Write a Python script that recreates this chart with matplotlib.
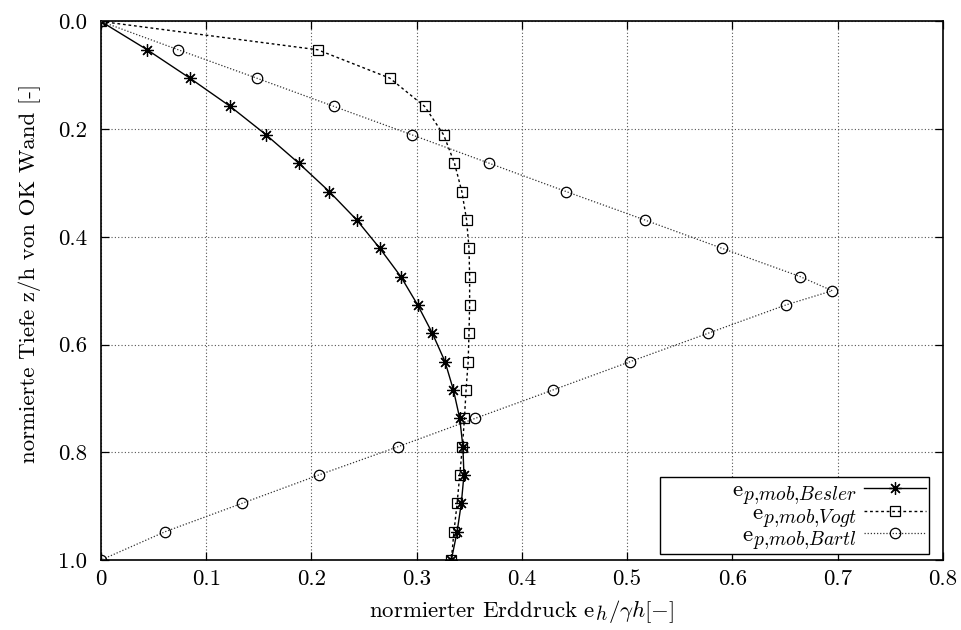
import numpy as np
import matplotlib
matplotlib.use("Agg")
import matplotlib.pyplot as plt
import matplotlib._mathtext as mathtext_mod

# Daten
# ------------------------------
z_steps = [i / 19 for i in range(20)]

e_besler = [0.0, 0.044, 0.0845, 0.123, 0.157, 0.188, 0.217, 0.243, 0.265, 0.285,
            0.301, 0.315, 0.327, 0.335, 0.341, 0.344, 0.345, 0.3425, 0.3385, 0.333]

e_vogt = [0.0, 0.206, 0.2745, 0.3077, 0.3257, 0.336, 0.343, 0.3475, 0.3498, 0.3504,
          0.3504, 0.3498, 0.349, 0.347, 0.3455, 0.3435, 0.341, 0.3385, 0.3355, 0.333]

z_bartl = z_steps[:10] + [0.5] + z_steps[10:]
e_bartl = [0.0, 0.0735, 0.148, 0.2216, 0.2955, 0.3688, 0.442, 0.5166, 0.590, 0.6645,
           0.695, 0.651, 0.577, 0.503, 0.4296, 0.3558, 0.2824, 0.207, 0.134, 0.061, 0.0]

x_ticks = [0, 0.1, 0.2, 0.3, 0.4, 0.5, 0.6, 0.7, 0.8]
x_ticklabels = ['0', '0.1', '0.2', '0.3', '0.4', '0.5', '0.6', '0.7', '0.8']
y_ticks = [0.0, 0.2, 0.4, 0.6, 0.8, 1.0]
y_ticklabels = ['0.0', '0.2', '0.4', '0.6', '0.8', '1.0']

# Schrift im LaTeX-Stil
fontsize = 16.5
plt.rcParams.update({
    "font.family": "serif",
    "font.serif": ["cmr10", "DejaVu Serif"],
    "mathtext.fontset": "cm",
    "axes.formatter.use_mathtext": True,
    "font.size": fontsize,
})
# groessere Indizes wie im Original
mathtext_mod.SHRINK_FACTOR = 0.85

fig = plt.figure(figsize=(9.61, 6.3), dpi=100)
ax = fig.add_axes([0.105, 0.111, 0.876, 0.855])

ax.plot(e_besler, z_steps, color='black', linewidth=1.0, linestyle='-',
        marker=(8, 2, 0), markersize=9, markeredgewidth=0.9,
        label=r'$\mathrm{e}_{p{,}mob{,}Besler}$', zorder=3)
ax.plot(e_vogt, z_steps, color='black', linewidth=1.0, linestyle=(0, (2, 2)),
        marker='s', markersize=7.5, markerfacecolor='none', markeredgewidth=0.9,
        label=r'$\mathrm{e}_{p{,}mob{,}Vogt}$', zorder=3)
ax.plot(e_bartl, z_bartl, color='#333333', linewidth=0.9, linestyle=(0, (1, 1.5)),
        marker='o', markersize=7.5, markerfacecolor='none', markeredgecolor='black',
        markeredgewidth=0.9, label=r'$\mathrm{e}_{p{,}mob{,}Bartl}$', zorder=3)

ax.set_xlim(0, 0.8)
ax.set_ylim(1.0, 0.0)
ax.set_xticks(x_ticks)
ax.set_xticklabels(x_ticklabels)
ax.set_yticks(y_ticks)
ax.set_yticklabels(y_ticklabels)
ax.tick_params(direction='in', top=True, right=True, length=6, width=0.9,
               labelsize=fontsize)
ax.tick_params(axis='x', pad=7)
ax.tick_params(axis='y', pad=10)

ax.grid(True, color='#555555', linestyle=(0, (1, 2)), linewidth=0.8)
for sp in ax.spines.values():
    sp.set_linewidth(1.2)

ax.set_xlabel(r'normierter Erddruck e$_h/\gamma h[-]$', fontsize=fontsize, labelpad=6)
ax.set_ylabel('normierte Tiefe z/h von OK Wand [-]', fontsize=fontsize, labelpad=12)
ax.yaxis.label.set_y(0.533)

leg = ax.legend(loc='lower right', bbox_to_anchor=(0.9834, 0.011),
                markerfirst=False, fancybox=False,
                edgecolor='black', framealpha=1, fontsize=16.5,
                handlelength=2.7, handletextpad=0.3, labelspacing=-0.15,
                borderpad=0.12, borderaxespad=0.0)
leg.get_frame().set_linewidth(1.0)
# Text rechtsbuendig wie bei gnuplot, Box breiter
for col in leg._legend_handle_box.get_children():
    col.align = 'right'
    col.width = 263

fig.savefig('out.png', dpi=100)
